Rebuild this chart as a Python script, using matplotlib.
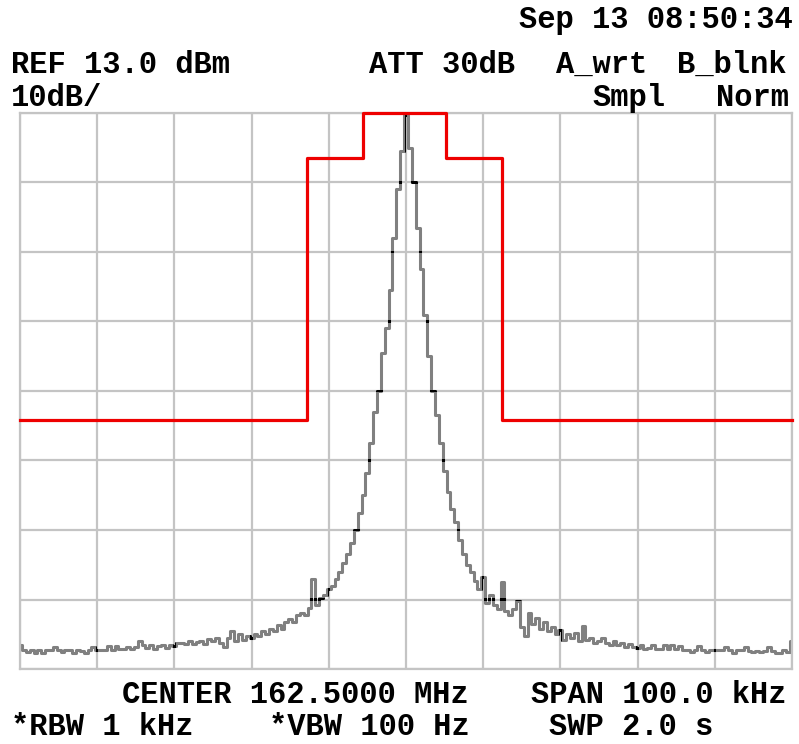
import numpy as np
import matplotlib.pyplot as plt
from matplotlib.path import Path

# analyzer settings
ref_level = 13.0      # dBm, top graticule line
db_per_div = 10
span_khz = 100.0
n_points = 201

# sweep offsets from 162.5 MHz, kHz
offset_khz = np.linspace(-span_khz / 2, span_khz / 2, n_points)

# trace A, dBm (one row = 5 kHz)
level_dbm = [
    -63.6, -64.2, -64.6, -64.2, -64.7, -64.3, -64.7, -64.2, -64.3, -63.9,
    -64.3, -64.6, -64.3, -64.3, -64.7, -64.3, -64.4, -64.7, -64.3, -63.9,
    -64.2, -64.2, -64.2, -63.7, -64.2, -63.7, -64.1, -64.1, -63.8, -64.1,
    -63.8, -62.9, -63.6, -64.0, -63.6, -64.1, -63.7, -63.6, -64.0, -63.6,
    -63.7, -63.3, -63.3, -63.4, -63.0, -63.4, -63.1, -62.9, -63.4, -62.7,
    -63.0, -62.6, -63.3, -63.8, -62.5, -61.6, -63.0, -62.0, -62.8, -62.3,
    -62.6, -62.0, -62.3, -61.6, -61.9, -61.2, -61.5, -60.6, -61.2, -60.3,
    -59.8, -60.2, -59.3, -58.9, -59.3, -58.2, -54.0, -57.8, -56.8, -56.3,
    -55.5, -55.0, -54.0, -53.0, -51.8, -50.5, -48.9, -47.0, -44.5, -42.0,
    -38.8, -34.5, -30.0, -27.0, -21.5, -18.0, -12.5, -5.0, 2.0, 7.5,
    12.7, 8.0, 3.0, -3.5, -9.5, -16.0, -22.0, -27.0, -30.5, -34.5,
    -38.5, -41.5, -44.0, -45.8, -48.5, -50.5, -52.0, -53.0, -54.3, -55.5,
    -53.8, -57.5, -56.3, -57.8, -58.3, -54.5, -58.6, -59.2, -58.4, -57.2,
    -61.0, -62.3, -59.0, -60.5, -59.6, -61.2, -60.2, -61.6, -61.0, -62.0,
    -61.4, -62.8, -62.0, -62.6, -61.8, -62.9, -60.8, -62.8, -62.5, -63.2,
    -62.9, -62.6, -63.3, -63.5, -62.9, -63.6, -63.2, -63.8, -63.4, -63.8,
    -64.0, -63.6, -64.1, -64.0, -63.5, -64.1, -64.1, -63.6, -64.1, -63.6,
    -64.1, -63.7, -64.2, -64.2, -64.6, -64.2, -63.7, -64.2, -64.6, -64.2,
    -64.3, -64.3, -64.3, -63.8, -64.3, -64.7, -64.2, -64.3, -63.8, -64.4,
    -64.5, -64.4, -64.5, -64.4, -63.9, -64.4, -64.7, -64.7, -64.2, -64.6,
    -62.9,
]

# limit mask
mask_khz = [-50, -12.8, -12.8, -5.6, -5.6, 5.2, 5.2, 12.4, 12.4, 50]
mask_dbm = [-31.2, -31.2, 6.5, 6.5, 13.0, 13.0, 6.5, 6.5, -31.2, -31.2]

W, H = 799, 744
fig = plt.figure(figsize=(W / 100, H / 100), dpi=100)
fig.patch.set_facecolor('white')
ax = fig.add_axes([20 / W, 75 / H, 772 / W, 556 / H])

bottom = ref_level - 8 * db_per_div
ax.set_xlim(-span_khz / 2, span_khz / 2)
ax.set_ylim(bottom, ref_level)
xt = np.arange(-50, 51, 10)
yt = np.arange(bottom, ref_level + 1, db_per_div)
ax.set_xticks(xt)
ax.set_yticks(yt)
ax.tick_params(length=0, labelleft=False, labelbottom=False)
ax.grid(True, color='#c4c4c4', lw=1.6)
ax.set_axisbelow(True)
for s in ax.spines.values():
    s.set_color('#c4c4c4')
    s.set_linewidth(1.6)

ax.plot(offset_khz, level_dbm, drawstyle='steps-mid', color='#808080', lw=2.2)

# where the trace crosses the graticule it shows up black
hx = 1.2 * span_khz / 772
hy = 1.2 * 80 / 556
verts, codes = [], []
def strip(x0, x1, y0, y1):
    verts.extend([(x0, y0), (x1, y0), (x1, y1), (x0, y1), (x0, y0)])
    codes.extend([Path.MOVETO, Path.LINETO, Path.LINETO, Path.LINETO, Path.CLOSEPOLY])
for x in xt:
    strip(x - hx, x + hx, bottom - 1, ref_level + 1)
for y in yt:
    strip(-51, 51, y - hy, y + hy)
dark, = ax.plot(offset_khz, level_dbm, drawstyle='steps-mid', color='black', lw=2.2)
dark.set_clip_path(Path(verts, codes), ax.transData)

ax.plot(mask_khz, mask_dbm, color='#ee0000', lw=2.3, clip_on=False, zorder=5)

def put(x, y, s):
    fig.text(x / W, 1 - y / H, s, ha='left', va='baseline', fontsize=22,
             family='Liberation Mono', weight='bold', color='black')

put(519, 28, 'Sep 13 08:50:34')
put(11, 73, 'REF 13.0 dBm')
put(369, 73, 'ATT 30dB')
put(556, 73, 'A_wrt')
put(677, 73, 'B_blnk')
put(11, 106, '10dB/')
put(592, 106, 'Smpl')
put(716, 106, 'Norm')
put(122, 703, 'CENTER 162.5000 MHz')
put(531, 703, 'SPAN 100.0 kHz')
put(11, 735, '*RBW 1 kHz')
put(269, 735, '*VBW 100 Hz')
put(549, 735, 'SWP 2.0 s')

fig.savefig('out.png', dpi=100, facecolor='white')
